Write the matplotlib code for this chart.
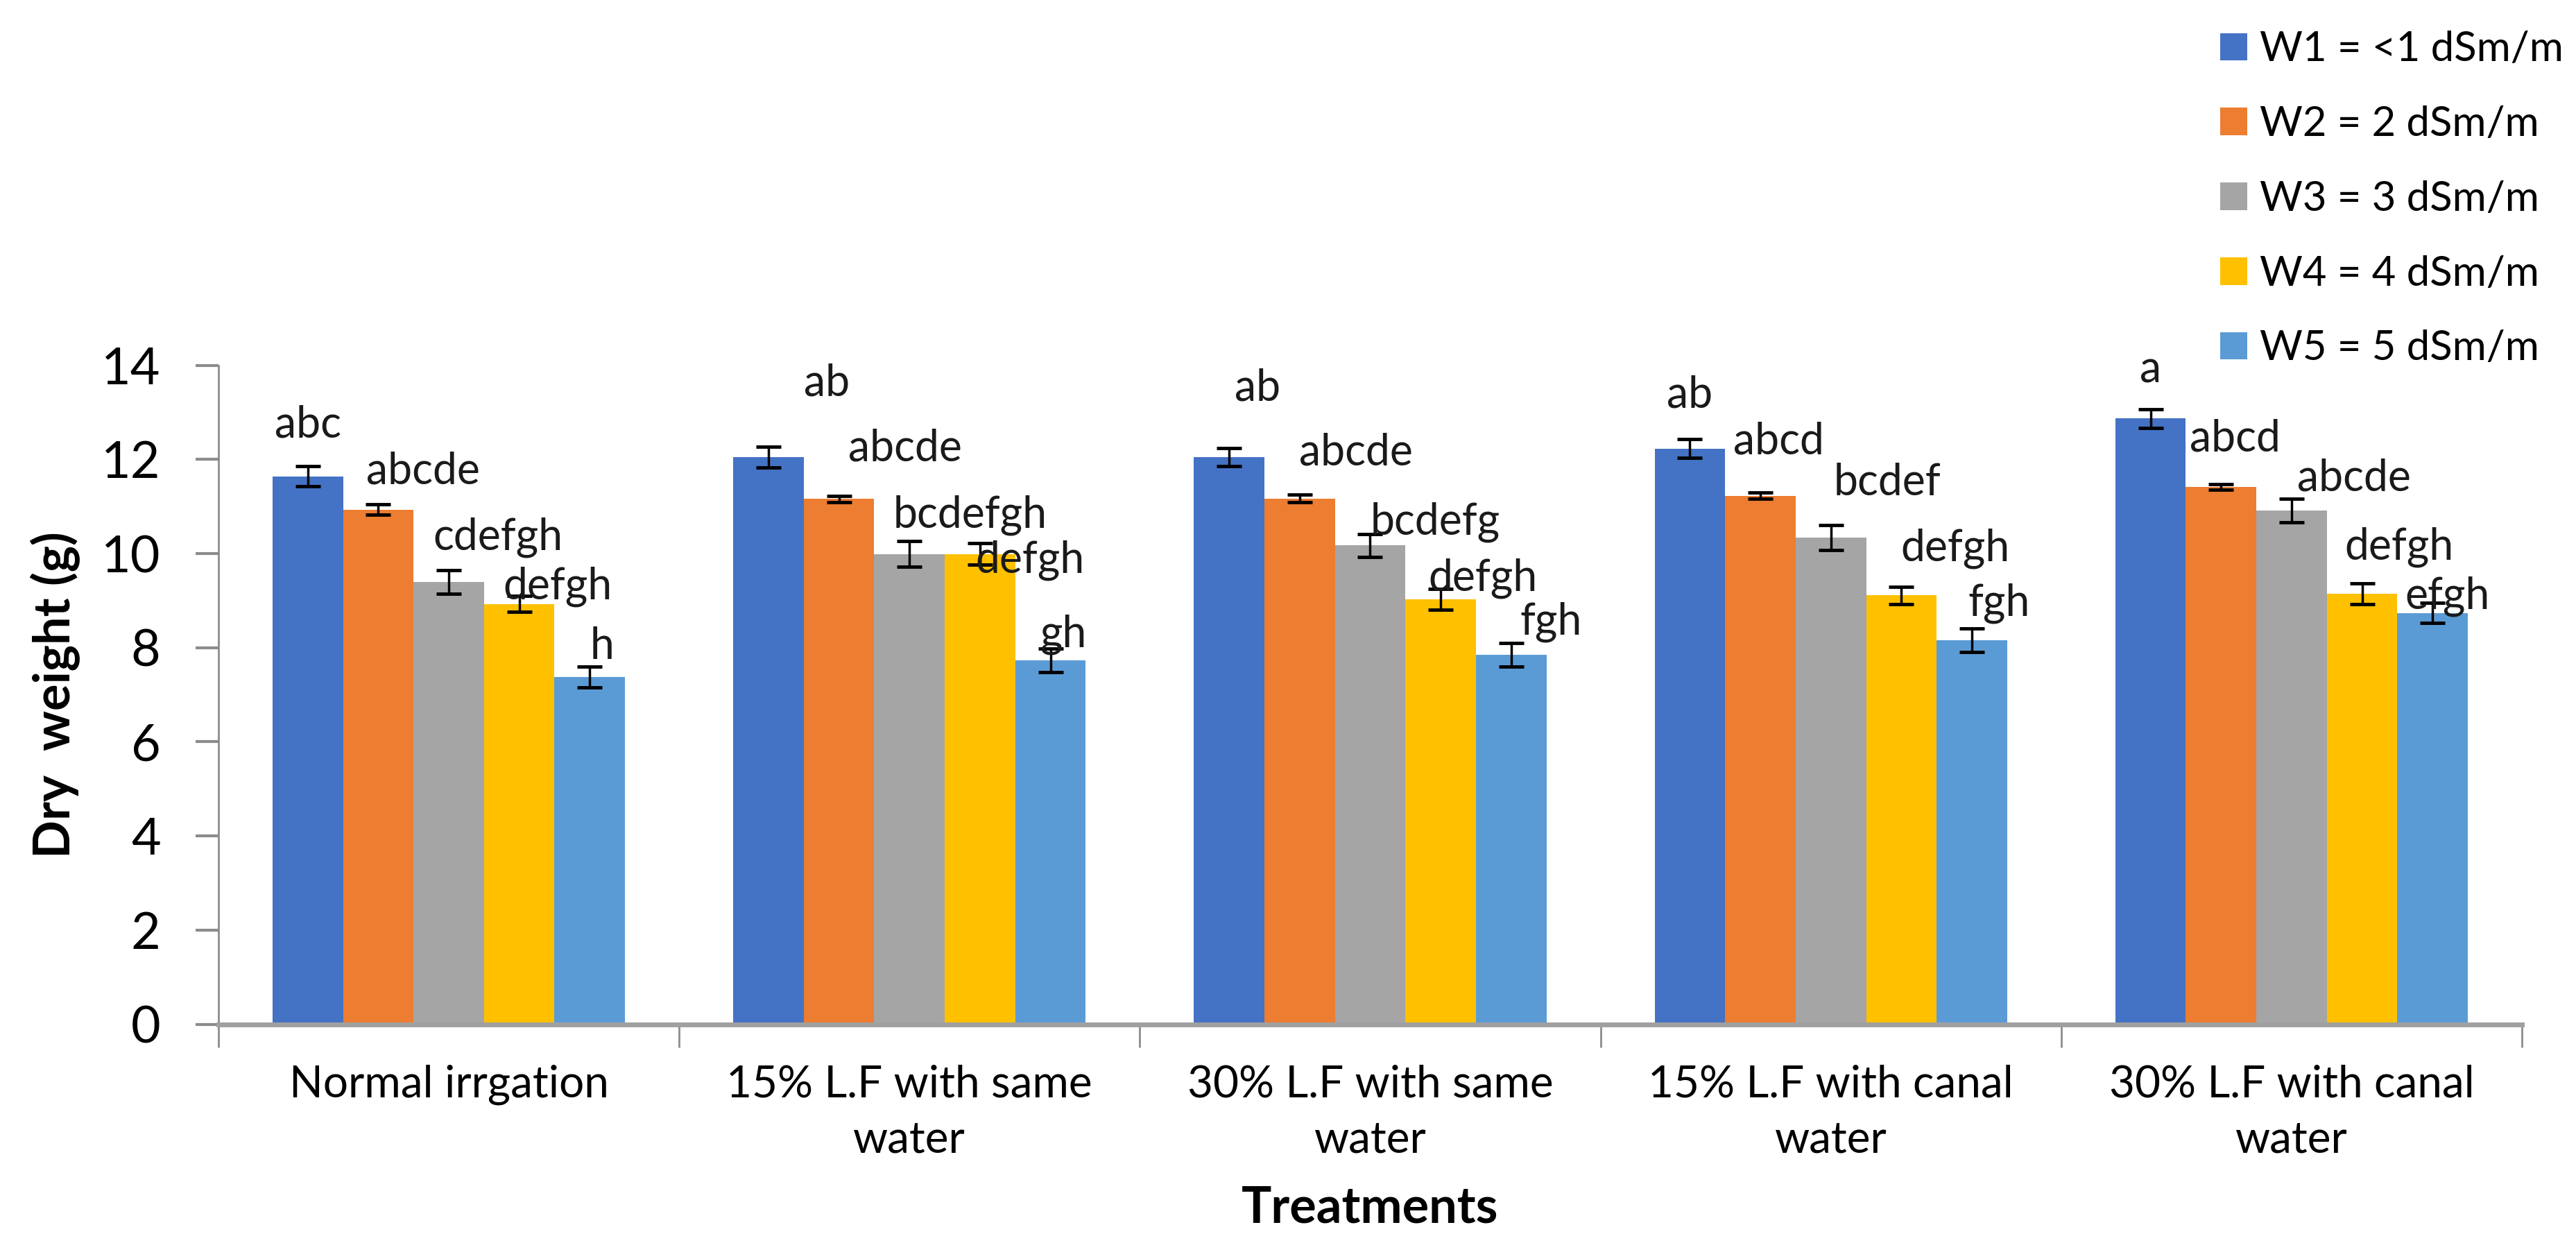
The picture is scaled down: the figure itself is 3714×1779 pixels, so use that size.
import numpy as np
import matplotlib.pyplot as plt

treatments = ['Normal irrgation', '15% L.F with same\nwater', '30% L.F with same\nwater',
              '15% L.F with canal\nwater', '30% L.F with canal\nwater']
series = ['W1 = <1 dSm/m', 'W2 = 2 dSm/m', 'W3 = 3 dSm/m', 'W4 = 4 dSm/m', 'W5 = 5 dSm/m']
colors = ['#4472C4', '#ED7D31', '#A5A5A5', '#FFC000', '#5B9BD5']

# dry weight (g), one list per water salinity level
w1 = [11.64, 12.05, 12.05, 12.23, 12.87]
w2 = [10.93, 11.16, 11.17, 11.23, 11.41]
w3 = [9.40, 9.99, 10.17, 10.34, 10.92]
w4 = [8.93, 9.99, 9.03, 9.11, 9.15]
w5 = [7.38, 7.73, 7.85, 8.16, 8.74]
values = [w1, w2, w3, w4, w5]

e1 = [0.21, 0.22, 0.19, 0.195, 0.20]
e2 = [0.11, 0.07, 0.08, 0.07, 0.06]
e3 = [0.25, 0.27, 0.24, 0.27, 0.25]
e4 = [0.175, 0.23, 0.22, 0.19, 0.22]
e5 = [0.22, 0.245, 0.25, 0.25, 0.22]
errors = [e1, e2, e3, e4, e5]

# significance letters (rows = W1..W5, columns = treatments)
letters = [['abc', 'ab', 'ab', 'ab', 'a'],
           ['abcde', 'abcde', 'abcde', 'abcd', 'abcd'],
           ['cdefgh', 'bcdefgh', 'bcdefg', 'bcdef', 'abcde'],
           ['defgh', 'defgh', 'defgh', 'defgh', 'defgh'],
           ['h', 'gh', 'fgh', 'fgh', 'efgh']]
# where the letters were placed in the figure (height in g, shift in groups)
letter_y = [[12.73, 13.62, 13.52, 13.37, 13.90],
            [11.74, 12.24, 12.15, 12.38, 12.44],
            [10.35, 10.81, 10.67, 11.51, 11.60],
            [9.30, 9.85, 9.47, 10.11, 10.14],
            [8.02, 8.28, 8.54, 8.95, 9.09]]
letter_dx = [[0.0, 0.127, 0.062, 0.0, 0.0],
             [0.097, 0.143, 0.122, 0.039, 0.03],
             [0.107, 0.131, 0.141, 0.122, 0.135],
             [0.083, 0.109, 0.092, 0.117, 0.081],
             [0.027, 0.027, 0.086, 0.059, 0.032]]

plt.rcParams['font.family'] = ['Lato', 'DejaVu Sans']

fig = plt.figure(figsize=(37.14, 17.79), dpi=100)
ax = fig.add_axes([0.0848, 0.170, 0.979 - 0.0848, 0.704 - 0.170])

x = np.arange(len(treatments))
width = 0.153
for i in range(5):
    pos = x + (i - 2) * width
    ax.bar(pos, values[i], width, color=colors[i], label=series[i], zorder=2)
    ax.errorbar(pos, values[i], yerr=errors[i], fmt='none', ecolor='black',
                elinewidth=2.5, capsize=13, capthick=3.5, zorder=3)
    for j in range(len(treatments)):
        ax.text(pos[j] + letter_dx[i][j], letter_y[i][j], letters[i][j],
                ha='center', va='center', fontsize=45, color='#1a1a1a', zorder=4)

ax.set_xlim(-0.5, len(treatments) - 0.5)
ax.set_ylim(0, 14)
ax.set_yticks(range(0, 15, 2))
ax.set_xticks(x)
ax.set_xticklabels(treatments, fontsize=46, linespacing=1.45)
ax.set_xticks(np.arange(-0.5, len(treatments)), minor=True)
ax.tick_params(axis='x', which='major', length=0, pad=42)
ax.tick_params(axis='x', which='minor', length=24, width=2, color='#8c8c8c')
ax.tick_params(axis='y', labelsize=53, length=24, width=3, color='#8c8c8c', pad=36)

for s in ['top', 'right']:
    ax.spines[s].set_visible(False)
ax.spines['left'].set_color('#8c8c8c')
ax.spines['left'].set_linewidth(2)
ax.spines['bottom'].set_color('#a0a0a0')
ax.spines['bottom'].set_linewidth(5)

ax.set_ylabel('Dry  weight (g)', fontsize=52, fontweight='bold', labelpad=22)
ax.set_xlabel('Treatments', fontsize=52, fontweight='bold', labelpad=26)

fig.legend(loc='upper left', bbox_to_anchor=(0.862, 0.975), frameon=False,
           fontsize=43, handlelength=0.65, handleheight=0.65, handletextpad=0.3,
           labelspacing=0.9, borderpad=0, borderaxespad=0)

fig.savefig('out.png', dpi=100)
